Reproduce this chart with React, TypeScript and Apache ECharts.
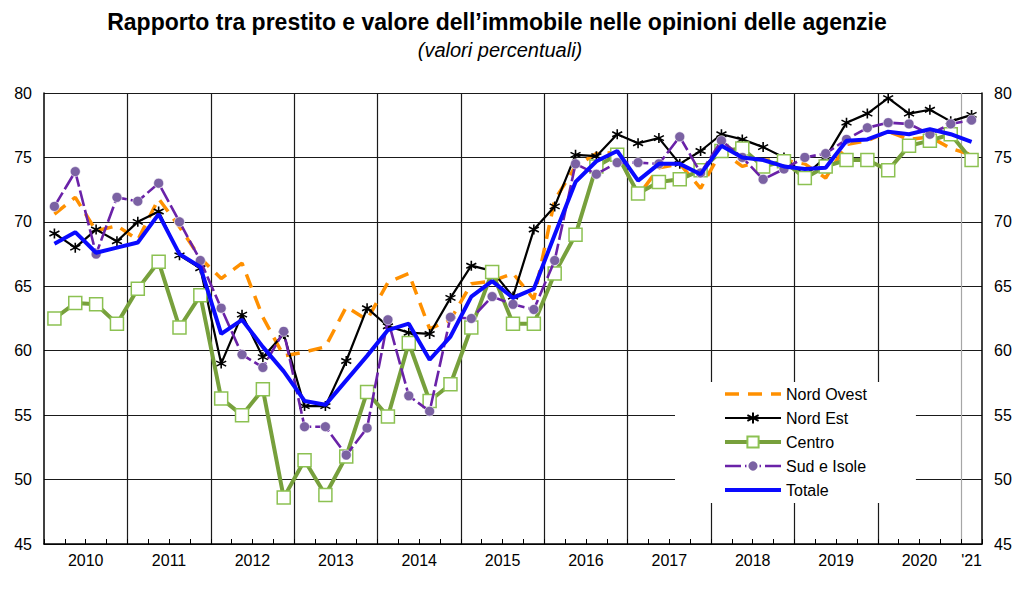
import React, { useEffect, useRef } from 'react';
import * as echarts from 'echarts';

const titleText = 'Rapporto tra prestito e valore dell\u2019immobile nelle opinioni delle agenzie';
const subtitleText = '(valori percentuali)';

const years = ['2010', '2011', '2012', '2013', '2014', '2015', '2016', '2017', '2018', '2019', '2020'];
const lastYearLabel = "'21";
const quarterNames = ['T1', 'T2', 'T3', 'T4'];

const quarters: string[] = [];
years.forEach((y) => quarterNames.forEach((q) => quarters.push(y + ' ' + q)));
quarters.push('2021 T1');

const nordOvest = [
  70.6, 71.9, 69.3, 69.7, 68.6, 71.8, 69.6, 67.2,
  65.6, 66.8, 62.6, 59.6, 59.9, 60.3, 63.4, 62.4,
  65.3, 66.0, 61.7, 62.4, 65.2, 65.4, 66.0, 64.0,
  71.7, 74.3, 75.3, 75.4, 72.0, 74.2, 74.5, 72.6,
  75.5, 74.3, 74.8, 74.8, 74.5, 73.4, 76.0, 76.3,
  77.0, 76.4, 76.6, 75.7, 75.2,
];
const nordEst = [
  69.1, 68.0, 69.4, 68.5, 70.0, 70.8, 67.4, 66.4,
  59.0, 62.8, 59.5, 61.3, 55.7, 55.7, 59.2, 63.3,
  61.9, 61.4, 61.3, 64.1, 66.6, 66.2, 64.2, 69.4,
  71.2, 75.2, 75.1, 76.8, 76.1, 76.5, 74.5, 75.5,
  76.8, 76.4, 75.8, 75.0, 73.6, 75.0, 77.7, 78.4,
  79.6, 78.4, 78.7, 77.8, 78.3,
];
const centro = [
  62.5, 63.7, 63.6, 62.1, 64.8, 66.9, 61.8, 64.3,
  56.3, 55.0, 57.0, 48.6, 51.5, 48.8, 51.8, 56.8,
  54.9, 60.6, 56.1, 57.4, 61.8, 66.1, 62.1, 62.1,
  66.0, 69.0, 74.3, 75.2, 72.2, 73.1, 73.3, 74.0,
  75.5, 75.7, 74.3, 74.7, 73.4, 74.3, 74.8, 74.8,
  74.0, 75.9, 76.3, 76.8, 74.8,
];
const sudIsole = [
  71.2, 73.9, 67.5, 71.9, 71.6, 73.0, 70.0, 67.0,
  63.3, 59.7, 58.7, 61.5, 54.1, 54.1, 51.9, 54.0,
  62.4, 56.5, 55.3, 62.6, 62.5, 64.2, 63.6, 63.2,
  67.0, 74.5, 73.7, 74.6, 74.6, 74.5, 76.6, 73.8,
  76.3, 75.0, 73.3, 74.1, 75.0, 75.3, 76.4, 77.3,
  77.7, 77.6, 76.8, 77.6, 77.9,
];
const totale = [
  68.3, 69.2, 67.6, 68.0, 68.4, 70.6, 67.5, 66.5,
  61.3, 62.4, 60.3, 58.4, 56.1, 55.8, 57.7, 59.6,
  61.6, 62.1, 59.3, 61.1, 64.2, 65.4, 64.1, 64.8,
  69.0, 73.1, 74.7, 75.5, 73.2, 74.5, 74.5, 73.7,
  75.9, 75.0, 74.8, 74.3, 74.1, 74.2, 76.3, 76.4,
  77.0, 76.8, 77.2, 76.8, 76.2,
];

const seriesNames = ['Nord Ovest', 'Nord Est', 'Centro', 'Sud e Isole', 'Totale'];
const linesOnlyInLegend = ['Nord Ovest', 'Totale'];

// half-quarter label slots so that year labels sit at year centres
const labelSlots: string[] = Array.from({ length: quarters.length * 2 + 1 }, () => '');
years.forEach((y, k) => {
  labelSlots[8 * k + 4] = y;
});
labelSlots[quarters.length * 2 - 1] = lastYearLabel;

const asterisk = 'path://M5,0L5,10M0.67,2.5L9.33,7.5M0.67,7.5L9.33,2.5';

const FONT = '"Liberation Sans", Arial, sans-serif';

const lineStyles: Record<string, any> = {
  'Nord Ovest': { color: '#ff9000', width: 3.5, type: [14, 9] },
  'Nord Est': { color: '#000', width: 2.2 },
  'Centro': { color: '#77a03c', width: 4 },
  'Sud e Isole': { color: '#6a22a8', width: 2.6, type: [16, 4] },
  'Totale': { color: '#0a0aff', width: 4 },
};

export default function App() {
  const ref = useRef<HTMLDivElement>(null);

  useEffect(() => {
    if (!ref.current) return;
    const chart = echarts.init(ref.current, undefined, { renderer: 'svg' });
    const splitColors = years.slice(1).map(() => '#1a1a1a');
    splitColors.push('#a6a6a6');

    chart.setOption({
      animation: false,
      backgroundColor: '#fff',
      textStyle: { fontFamily: FONT },
      title: [
        {
          text: titleText,
          left: 492,
          top: 5,
          textAlign: 'center',
          textStyle: { fontFamily: FONT, fontWeight: 'bold', fontSize: 23, color: '#000' },
        },
        {
          text: subtitleText,
          left: 495,
          top: 35,
          textAlign: 'center',
          textStyle: { fontFamily: FONT, fontStyle: 'italic', fontWeight: 'normal', fontSize: 20, color: '#000' },
        },
      ],
      grid: { left: 44, right: 42, top: 93, bottom: 45, containLabel: false },
      legend: {
        data: seriesNames.map((n) =>
          linesOnlyInLegend.indexOf(n) >= 0
            ? { name: n, lineStyle: lineStyles[n], itemStyle: { color: 'rgba(0,0,0,0)', borderWidth: 0, opacity: 0 } }
            : { name: n, lineStyle: lineStyles[n] }
        ),
        orient: 'vertical',
        left: 675,
        top: 382,
        padding: [4, 49, 5, 48],
        backgroundColor: '#fff',
        itemWidth: 56,
        itemHeight: 14,
        itemGap: 8,
        textStyle: { fontFamily: FONT, fontSize: 16, color: '#000' },
      },
      xAxis: [
        {
          type: 'category',
          data: quarters,
          boundaryGap: true,
          position: 'bottom',
          axisLine: { show: true, lineStyle: { color: '#000', width: 1.5 } },
          axisTick: { show: true, inside: true, length: 5, interval: 0, lineStyle: { color: '#000', width: 1 } },
          axisLabel: { show: false },
          splitLine: {
            show: true,
            interval: (i: number) => i % 4 === 0,
            showMinLine: false,
            showMaxLine: false,
            lineStyle: { color: splitColors, width: 1.2 },
          },
        },
        {
          type: 'category',
          data: labelSlots,
          boundaryGap: false,
          position: 'bottom',
          axisLine: { show: false },
          axisTick: { show: false },
          splitLine: { show: false },
          axisLabel: { show: true, interval: 0, margin: 8, fontSize: 16, color: '#000', fontFamily: FONT },
        },
      ],
      yAxis: [
        {
          type: 'value',
          min: 45,
          max: 80,
          interval: 5,
          position: 'left',
          axisLine: { show: true, lineStyle: { color: '#000', width: 1.5 } },
          axisTick: { show: false },
          axisLabel: { margin: 12, fontSize: 16, color: '#000', fontFamily: FONT },
          splitLine: { show: true, lineStyle: { color: '#1a1a1a', width: 1.2 } },
        },
        {
          type: 'value',
          min: 45,
          max: 80,
          interval: 5,
          position: 'right',
          axisLine: { show: true, lineStyle: { color: '#000', width: 1.5 } },
          axisTick: { show: false },
          axisLabel: { margin: 12, fontSize: 16, color: '#000', fontFamily: FONT },
          splitLine: { show: false },
        },
      ],
      series: [
        {
          name: 'Nord Ovest',
          type: 'line',
          data: nordOvest,
          showSymbol: false,
          symbol: 'none',
          color: '#ff9000',
          lineStyle: lineStyles['Nord Ovest'],
          z: 2,
        },
        {
          name: 'Nord Est',
          type: 'line',
          data: nordEst,
          symbol: asterisk,
          symbolSize: 10,
          color: '#000',
          itemStyle: { color: '#000', borderColor: '#000', borderWidth: 1.6 },
          lineStyle: lineStyles['Nord Est'],
          z: 3,
        },
        {
          name: 'Centro',
          type: 'line',
          data: centro,
          symbol: 'rect',
          symbolSize: 13,
          color: '#77a03c',
          itemStyle: { color: '#fff', borderColor: '#8cc152', borderWidth: 1.5 },
          lineStyle: lineStyles['Centro'],
          z: 4,
        },
        {
          name: 'Sud e Isole',
          type: 'line',
          data: sudIsole,
          symbol: 'circle',
          symbolSize: 10,
          color: '#7b62a3',
          itemStyle: { color: '#7b62a3', borderColor: '#fff', borderWidth: 0.6 },
          lineStyle: lineStyles['Sud e Isole'],
          z: 5,
        },
        {
          name: 'Totale',
          type: 'line',
          data: totale,
          showSymbol: false,
          symbol: 'none',
          color: '#0a0aff',
          lineStyle: lineStyles['Totale'],
          z: 6,
        },
      ],
    });
    return () => chart.dispose();
  }, []);

  return (
    <div
      ref={ref}
      style={{ position: 'fixed', left: 0, top: 0, width: 1024, height: 589, background: '#fff' }}
    />
  );
}
